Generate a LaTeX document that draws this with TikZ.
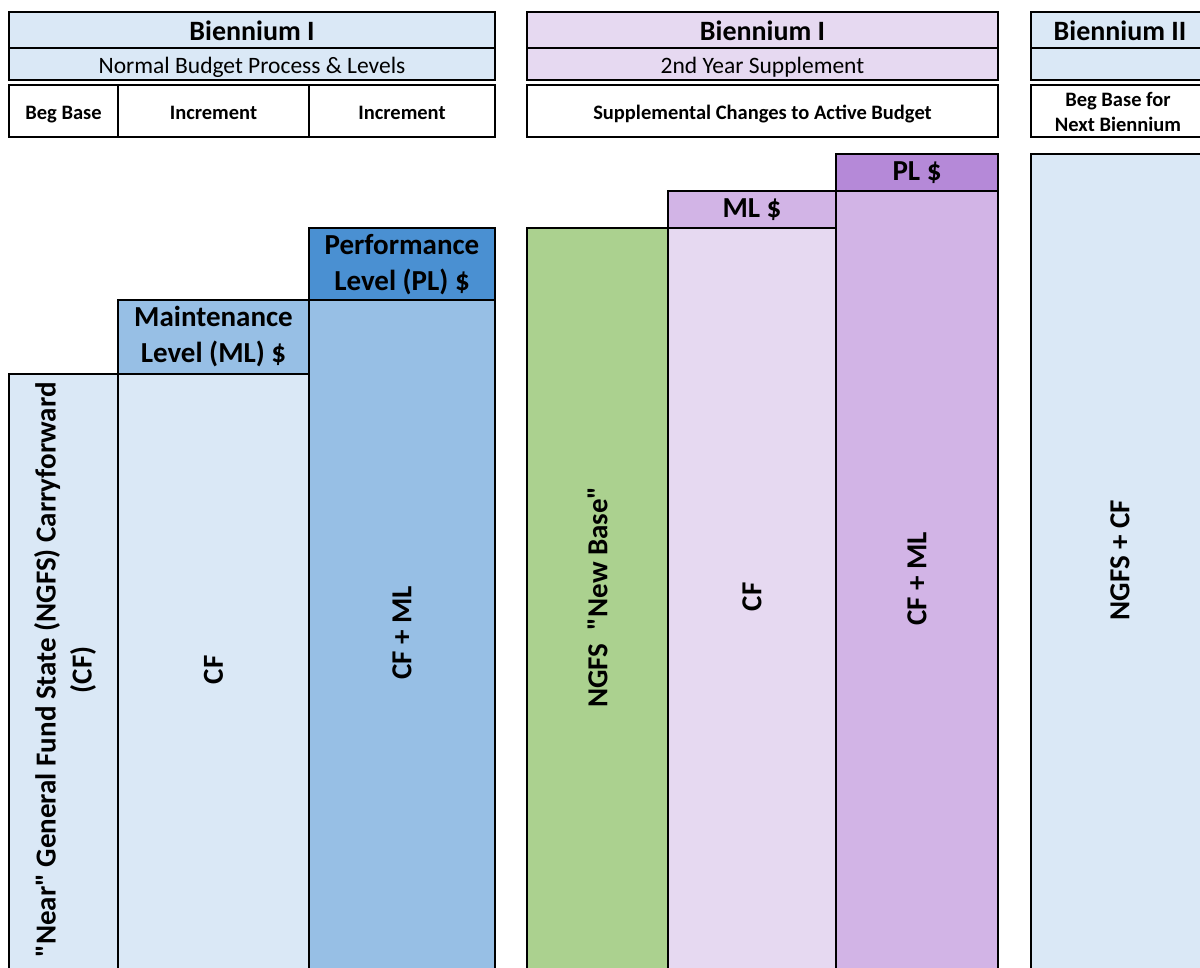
\documentclass[tikz,border=0pt]{standalone}
\usepackage{fontspec}
\setmainfont{Carlito}
\usepackage{xcolor}
\usetikzlibrary{math}
\definecolor{bluelt}{RGB}{218,232,246}
\definecolor{bluemd}{RGB}{151,191,229}
\definecolor{bluedk}{RGB}{74,144,210}
\definecolor{greenbase}{RGB}{171,209,143}
\definecolor{purplelt}{RGB}{230,217,241}
\definecolor{purplemd}{RGB}{210,180,230}
\definecolor{purpledk}{RGB}{181,137,216}

\tikzset{
  frame/.style={draw=black, line width=2pt},
  titletext/.style={font=\fontsize{28}{32}\selectfont\bfseries},
  subtext/.style={font=\fontsize{23.5}{28}\selectfont, anchor=base},
  celltext/.style={font=\fontsize{20.5}{25}\selectfont\bfseries, align=center},
  bartext/.style={font=\fontsize{29}{36}\selectfont\bfseries, align=center},
  sidetext/.style={bartext, rotate=90},
}

\begin{document}
\begin{tikzpicture}[x=1pt,y=-1pt]
\tikzmath{
\yb=990;   % bars run past the bottom edge
}
\useasboundingbox (0,0) rectangle (1200,967);
\clip (0,0) rectangle (1200,967);

% header: normal budget
\draw[frame, fill=bluelt] (9,12) rectangle (495,80);
\draw[line width=2pt] (9,48) -- (495,48);
\node[titletext] (hdrA) at (252,31) {Biennium I};
\node[subtext] (subA) at (252,73) {Normal Budget Process \& Levels};
\draw[frame] (9,85) rectangle (495,137);
\draw[line width=2pt] (118,85) -- (118,137);
\draw[line width=2pt] (309,85) -- (309,137);
\node[celltext, anchor=base] (begA) at (63.5,119) {Beg Base};
\node[celltext, anchor=base] (incA) at (213.5,119) {Increment};
\node[celltext, anchor=base] (incB) at (402,119) {Increment};

% header: supplement
\draw[frame, fill=purplelt] (527,12) rectangle (998,80);
\draw[line width=2pt] (527,48) -- (998,48);
\node[titletext] (hdrB) at (762.5,31) {Biennium I};
\node[subtext] (subB) at (762.5,73) {2nd Year Supplement};
\draw[frame] (527,85) rectangle (998,137);
\node[celltext, anchor=base] (supB) at (762.5,119) {Supplemental Changes to Active Budget};

% header: next biennium
\draw[frame, fill=bluelt] (1031,12) rectangle (1210,80);
\draw[line width=2pt] (1031,48) -- (1210,48);
\node[titletext] (hdrC) at (1120,31) {Biennium II};
\draw[frame] (1031,85) rectangle (1210,137);
\node[celltext] (begC) at (1118,112) {Beg Base for\\Next Biennium};

% bars, biennium I
\draw[frame, fill=bluelt] (9,374) rectangle (118,\yb);
\node[sidetext] (cfA) at (65,670)
  {\textquotedbl Near\textquotedbl{} General Fund State (NGFS) Carryforward\\(CF)};

\draw[frame, fill=bluemd] (118,300) rectangle (309,374);
\node[bartext] (mlA) at (213.5,337) {Maintenance\\Level (ML) \$};
\draw[frame, fill=bluelt] (118,374) rectangle (309,\yb);
\node[sidetext] (cfB) at (213.5,670) {CF};

\draw[frame, fill=bluedk] (309,228) rectangle (495,300);
\node[bartext] (plA) at (402,265) {Performance\\Level (PL) \$};
\draw[frame, fill=bluemd] (309,300) rectangle (495,\yb);
\node[sidetext] (cfmlA) at (402,633) {CF + ML};

% bars, supplement
\draw[frame, fill=greenbase] (527,228) rectangle (668,\yb);
\node[sidetext] (newB) at (597.5,597) {NGFS~~\textquotedbl New Base\textquotedbl};

\draw[frame, fill=purplemd] (668,191) rectangle (836,228);
\node[bartext] (mlB) at (752,210) {ML \$};
\draw[frame, fill=purplelt] (668,228) rectangle (836,\yb);
\node[sidetext] (cfC) at (752,597) {CF};

\draw[frame, fill=purpledk] (836,154) rectangle (998,191);
\node[bartext] (plB) at (917,173) {PL \$};
\draw[frame, fill=purplemd] (836,191) rectangle (998,\yb);
\node[sidetext] (cfmlB) at (917,579) {CF + ML};

% bar, biennium II
\draw[frame, fill=bluelt] (1031,154) rectangle (1210,\yb);
\node[sidetext] (ngfsC) at (1120,560) {NGFS + CF};
\end{tikzpicture}
\end{document}
